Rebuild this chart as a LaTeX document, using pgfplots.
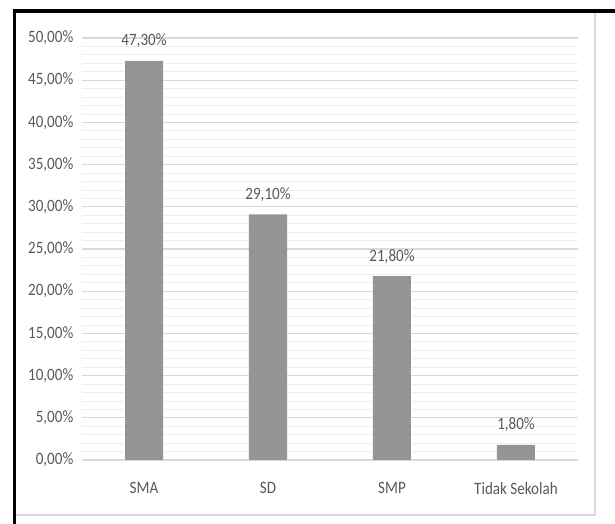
\documentclass[border=0pt]{standalone}
\usepackage{pgfplots}
\pgfplotsset{compat=1.18}
\usepackage{fontspec}
\setmainfont{Carlito}
\definecolor{bargray}{RGB}{148,148,148}
\definecolor{txt}{RGB}{89,89,89}
\definecolor{majgrid}{RGB}{217,217,217}
\definecolor{mingrid}{RGB}{238,238,238}
\newcommand{\cond}[1]{\scalebox{0.87}[1]{#1}}
\begin{document}
\begin{tikzpicture}[x=0.75pt,y=0.75pt]
\useasboundingbox (0,0) rectangle (615,524);
\draw[majgrid, line width=1.2pt] (15,9) -- (595,9) -- (595,512);
\draw[black, line width=2.4pt] (14.5,0) -- (14.5,513) -- (615,513);
\begin{axis}[
  at={(61.5pt,48pt)}, anchor=south west,
  scale only axis, width=372pt, height=316.5pt,
  xmin=-0.5, xmax=3.5, ymin=0, ymax=50,
  ybar, bar width=28.5pt,
  xtick=data, xticklabels={\cond{SMA},\cond{SD},\cond{SMP},\cond{Tidak Sekolah}},
  ytick={0,5,...,50}, minor y tick num=4,
  ymajorgrids, yminorgrids,
  major grid style={majgrid, line width=0.8pt},
  minor grid style={mingrid, line width=0.6pt},
  axis line style={draw=none},
  major tick style={draw=none}, minor tick style={draw=none},
  /pgf/number format/assume math mode=true,
  yticklabel={\cond{\pgfmathprintnumber[fixed,fixed zerofill,precision=2,use comma]{\tick}\%}},
  ticklabel style={font=\fontsize{13}{15}\selectfont, text=txt},
  yticklabel style={xshift=-3pt},
  xticklabel style={yshift=-9pt},
  nodes near coords={\cond{\pgfmathprintnumber[fixed,fixed zerofill,precision=2,use comma]{\pgfplotspointmeta}\%}},
  nodes near coords style={font=\fontsize{13}{15}\selectfont, text=txt, yshift=6pt},
]
\addplot[fill=bargray, draw=none] coordinates {(0,47.3) (1,29.1) (2,21.8) (3,1.8)};
\end{axis}
\end{tikzpicture}
\end{document}
